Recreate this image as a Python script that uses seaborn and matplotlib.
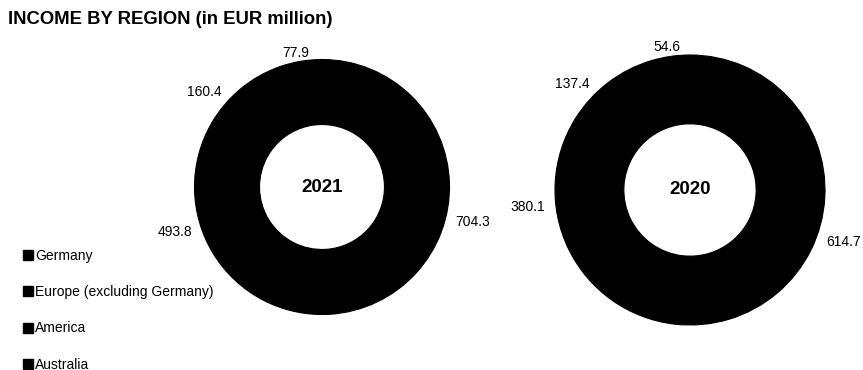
import matplotlib
matplotlib.use("Agg")
import numpy as np
import matplotlib.pyplot as plt
from matplotlib.lines import Line2D
import seaborn as sns

regions = ["Germany", "Europe (excluding Germany)", "America", "Australia"]
income_2021 = [704.3, 493.8, 160.4, 77.9]
income_2020 = [614.7, 380.1, 137.4, 54.6]
years = ["2021", "2020"]

sns.set_theme(style="white")
plt.rcParams["font.family"] = ["Liberation Sans", "DejaVu Sans"]

colors = ["black"] * len(regions)

fig = plt.figure(figsize=(8.63, 3.70), dpi=100)
W, H = 863, 370

def add_donut(cx, cy, r, values, year, nudges):
    ax = fig.add_axes([(cx - r) / W, (H - cy - r) / H, 2 * r / W, 2 * r / H])
    wedges, _ = ax.pie(values, colors=colors, startangle=90, counterclock=False,
                       wedgeprops=dict(width=0.51, edgecolor="black", linewidth=0.8))
    # data labels, best-fit style placement around the ring
    for w, v, nd in zip(wedges, values, nudges):
        ang = np.deg2rad((w.theta1 + w.theta2) / 2 + nd)
        x, y = 1.08 * np.cos(ang), 1.08 * np.sin(ang)
        if abs(np.cos(ang)) < 0.3:
            ha, va = "center", "bottom"
            x, y = 1.0 * np.cos(ang), 1.02 * np.sin(ang)
        else:
            ha, va = ("left" if x > 0 else "right"), "center"
        ax.text(x, y, f"{v:.1f}", ha=ha, va=va, fontsize=10, color="black", clip_on=False)
    ax.text(0, 0, year, ha="center", va="center", fontsize=13.5, fontweight="bold", color="black")
    ax.set_xlim(-1, 1)
    ax.set_ylim(-1, 1)
    ax.axis("off")
    return ax

add_donut(322, 187, 127.5, income_2021, years[0], [-16.5, -12.5, 7, 2])
add_donut(690, 190, 135, income_2020, years[1], [-17.5, -19, 6, 1.5])

fig.text(8 / W, 1 - 19 / H, "INCOME BY REGION (in EUR million)", fontsize=13.3,
         fontweight="bold", va="center", ha="left", color="black")

handles = [Line2D([0], [0], marker="s", linestyle="none", markersize=7.2,
                  markerfacecolor=c, markeredgecolor=c) for c in colors]
fig.legend(handles, regions, loc="upper left", bbox_to_anchor=(23 / W, 1 - 249 / H),
           frameon=False, fontsize=10, labelspacing=1.6, handlelength=0.72,
           handletextpad=0.15, borderaxespad=0, borderpad=0, labelcolor="black")

fig.savefig("out.png", dpi=100)
